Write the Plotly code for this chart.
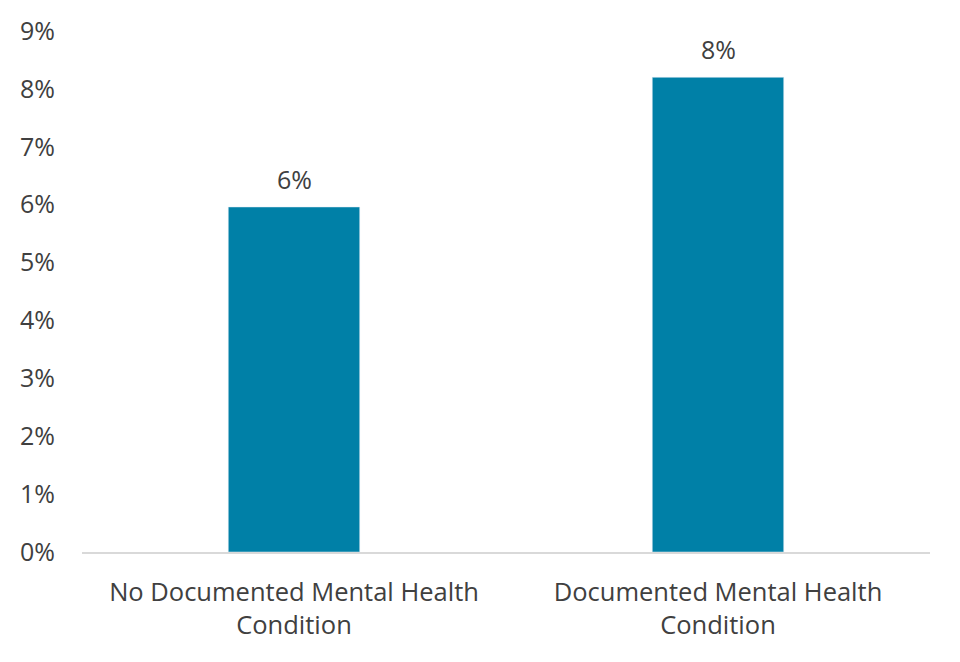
import plotly.graph_objects as go

categories = ["No Documented Mental Health<br>Condition", "Documented Mental Health<br>Condition"]
values = [0.0596, 0.082]
labels = ["6%", "8%"]
y_ticks = [0, 0.01, 0.02, 0.03, 0.04, 0.05, 0.06, 0.07, 0.08, 0.09]
y_tick_text = ["0%", "1%", "2%", "3%", "4%", "5%", "6%", "7%", "8%", "9%"]

FONT = "Open Sans"
TEXT = "#404040"

fig = go.Figure(go.Bar(x=categories, y=values, marker_color="#0080a7", width=0.31))

for c, v, t in zip(categories, values, labels):
    fig.add_annotation(x=c, y=v, text=t, showarrow=False, yanchor="bottom", yshift=9,
                       font=dict(family=FONT, size=25, color=TEXT))

fig.update_layout(
    width=960, height=662,
    margin=dict(l=74, r=38, t=23, b=118),
    paper_bgcolor="white", plot_bgcolor="white",
    font=dict(family=FONT, size=25, color=TEXT),
    showlegend=False,
    xaxis=dict(showline=True, linecolor="#d9d9d9", linewidth=2, ticks="", showgrid=False,
               ticklabelstandoff=16, tickfont=dict(size=25.5), automargin=False),
    yaxis=dict(range=[0, 0.09], tickmode="array", tickvals=y_ticks, ticktext=y_tick_text,
               showgrid=False, zeroline=False, ticklabelstandoff=26, automargin=False),
)

fig.write_html("out.html")
